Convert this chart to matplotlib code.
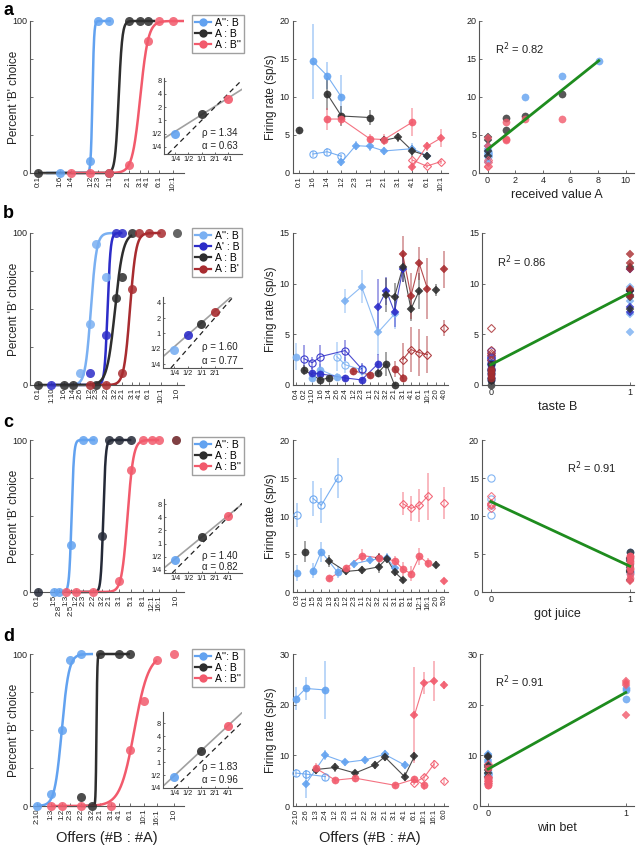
import numpy as np
import matplotlib
matplotlib.use("Agg")
import matplotlib.pyplot as plt
from matplotlib.lines import Line2D

plt.rcParams['font.family'] = ['Liberation Sans', 'DejaVu Sans']

W, H = 638, 852

# ---------------- colours ----------------
COL = {'lb': '#62a2f0', 'k': '#2e2e2e', 'r': '#f25a6c',
       'blb': '#7ab0f2', 'bdb': '#2c2cc8', 'bdr': '#a82c30', 'gk': '#4a4a4a',
       'mr': '#6a1e22', 'nk': '#252a38'}

# ======================= ROW a =======================
A_CH_LABELS = ['0:1', '1:6', '1:4', '1:2', '2:3', '1:1', '2:1', '3:1', '4:1', '6:1', '10:1']
A_CH_SPECIAL = {'0:1': -2.59}
A_CH_XLIM = (-2.89, 2.71)
# colour, offers, percent B, fit midpoint, fit width, curve start, curve end
A_CH_SERIES = [
    ('lb', ['1:6', '1:2', '2:3', '1:1'], [0, 8, 100, 100], -0.62, 0.03, -2.3, 0.05),
    ('k', ['0:1', '1:1', '2:1', '3:1', '4:1'], [0, 0, 100, 100, 100], 0.335, 0.065, -2.59, 1.67),
    ('r', ['1:4', '1:2', '1:1', '2:1', '4:1', '6:1', '10:1'], [0, 0, 0, 5, 87, 100, 100], 1.12, 0.145, -1.39, 2.71),
]
A_LEGEND = [('lb', "A'': B"), ('k', "A : B"), ('r', "A : B''")]
A_IN_X = [0.25, 1, 4]
A_IN_Y = [0.5, 1.37, 3.0]
A_IN_COL = ['lb', 'k', 'r']
A_RHO, A_ALPHA = 1.34, 0.63

A_MID_LABELS = A_CH_LABELS
# colour, marker, filled, chose A, category index, rate, error
A_MID_TRACES = [
    ('lb', 'o', True, 1, [1, 2, 3], [14.7, 12.8, 10.0], [4.9, 1.8, 2.9]),
    ('lb', 'D', True, 0, [3, 4, 5, 6, 8, 9], [1.4, 3.6, 3.5, 2.9, 3.2, 2.3], [0.5, 0.6, 0.6, 0.5, 0.7, 0.5]),
    ('lb', 'o', False, 0, [1, 2, 3], [2.5, 2.8, 2.2], [0.4, 0.5, 0.3]),
    ('k', 'o', True, 1, [0], [5.6], [0.5]),
    ('k', 'o', True, 1, [2, 3, 5], [10.4, 7.5, 7.3], [2.1, 1.3, 1.0]),
    ('k', 'D', True, 0, [6, 7, 8, 9], [4.3, 4.7, 2.9, 2.3], [0.5, 0.6, 0.8, 0.5]),
    ('r', 'o', True, 1, [2, 3, 5, 6, 8], [7.1, 7.1, 4.5, 4.4, 6.7], [1.5, 0.8, 0.6, 0.7, 1.8]),
    ('r', 'D', True, 0, [8, 9, 10], [0.8, 3.5, 4.6], [0.6, 0.6, 1.2]),
    ('r', 'D', False, 0, [8, 9, 10], [1.7, 0.9, 1.5], [0.3, 0.3, 0.3]),
]
A_UNIT_VALUE = 1.35
A_FIT = (3.1, 1.45, 0.0, 8.05)   # intercept, slope, x from, x to
A_R2 = '0.82'

# ======================= ROW b =======================
B_CH_LABELS = ['0:1', '1:10', '1:6', '1:4', '2:6', '1:2', '2:3', '2:2', '3:2', '2:1', '3:1', '4:1', '6:1', '10:1', '1:0']
B_CH_SPECIAL = {'0:1': -2.88, '1:0': 2.98}
B_CH_XLIM = (-3.21, 3.29)
B_CH_SERIES = [
    ('blb', ['2:6', '1:2', '2:3', '2:2'], [8, 40, 93, 71], -0.64, 0.12, -1.27, 0.42),
    ('bdb', ['1:10', '1:2', '2:2', '3:2', '2:1'], [0, 8, 33, 100, 100], 0.063, 0.063, -2.3, 0.69),
    ('k', ['0:1', '1:6', '1:4', '2:3', '3:2', '2:1', '3:1'], [0, 0, 0, 0, 57, 71, 100], 0.38, 0.17, -2.88, 1.1),
    ('bdr', ['1:2', '2:2', '2:1', '3:1', '4:1', '6:1', '10:1'], [0, 0, 8, 63, 100, 100, 100], 1.01, 0.127, -0.69, 2.3),
    ('gk', ['1:0'], [100], None, None, None, None),
]
B_LEGEND = [('blb', "A'': B"), ('bdb', "A' : B"), ('k', "A : B"), ('bdr', "A : B'")]
B_IN_X = [0.25, 0.5, 1, 2]
B_IN_Y = [0.48, 0.95, 1.55, 2.6]
B_IN_COL = ['blb', 'bdb', 'k', 'bdr']
B_RHO, B_ALPHA = 1.60, 0.77

B_MID_LABELS = ['0:4', '0:2', '1:10', '1:6', '1:4', '2:6', '2:4', '1:2', '2:3', '1:1', '2:2',
                '3:2', '2:1', '3:1', '4:1', '6:1', '10:1', '2:0', '4:0']
# colour, marker, filled, taste B, category index, rate, error
B_MID_TRACES = [
    ('blb', 'o', True, 0, [0], [2.8], [1.3]),
    ('blb', 'o', True, 0, [2, 3, 5], [0.7, 1.5, 0.8], [0.4, 0.6, 0.4]),
    ('blb', 'o', False, 0, [5, 6, 8], [2.8, 2.0, 1.5], [1.4, 0.8, 0.6]),
    ('blb', 'D', True, 1, [6, 8, 10, 12], [8.3, 9.7, 5.2, 7.0], [1.2, 1.6, 2.2, 1.5]),
    ('bdb', 'o', False, 0, [1, 2, 3, 6, 8], [2.6, 2.2, 2.8, 3.4, 1.6], [1.3, 0.6, 1.1, 1.0, 0.6]),
    ('bdb', 'o', True, 0, [2, 3, 6, 8, 10], [1.2, 1.1, 0.7, 0.5, 2.1], [0.5, 0.5, 0.3, 0.3, 1.0]),
    ('bdb', 'D', True, 1, [10, 11, 12, 13], [7.7, 9.3, 7.2, 11.4], [2.8, 1.4, 1.5, 1.2]),
    ('k', 'o', True, 0, [1, 3, 4], [1.5, 0.5, 0.7], [0.5, 0.2, 0.2]),
    ('k', 'o', True, 0, [10, 11, 12], [1.2, 2.1, 0.0], [0.4, 1.2, 0.2]),
    ('k', 'D', True, 1, [11, 12, 13, 14, 15], [8.9, 8.7, 11.6, 7.5, 9.3], [1.7, 1.4, 1.4, 1.2, 1.8]),
    ('k', 'D', True, 1, [17], [9.4], [0.6]),
    ('bdr', 'o', True, 0, [7, 9], [1.4, 1.0], [0.4, 0.3]),
    ('bdr', 'o', True, 0, [12, 13], [1.6, 0.7], [0.8, 0.4]),
    ('bdr', 'D', True, 1, [13, 14, 15, 16], [12.9, 8.8, 12.0, 9.5], [1.8, 2.3, 1.6, 3.0]),
    ('bdr', 'D', True, 1, [18], [11.4], [1.8]),
    ('bdr', 'D', False, 0, [13, 14, 15, 16], [2.5, 3.5, 3.2, 3.0], [1.6, 2.2, 2.3, 1.8]),
    ('bdr', 'D', False, 0, [18], [5.6], [0.8]),
]
B_FIT = (2.0, 7.1, 0.0, 1.0)
B_R2 = '0.86'

# ======================= ROW c =======================
C_CH_LABELS = ['0:1', '1:5', '2:8', '1:3', '2:5', '1:2', '2:3', '2:2', '3:2', '2:1', '3:1', '5:1', '8:1', '12:1', '16:1', '1:0']
C_CH_SPECIAL = {'0:1': -2.29, '1:0': 3.47}
C_CH_XLIM = (-2.61, 3.8)
C_CH_SERIES = [
    ('lb', ['1:5', '2:8', '2:5', '2:3', '2:2'], [0, 0, 31, 100, 100], -0.88, 0.05, -1.61, 0.1),
    ('nk', ['0:1', '3:2', '2:1', '3:1', '5:1'], [0, 37, 100, 100, 100], 0.44, 0.05, -1.0, 1.61),
    ('r', ['1:3', '1:2', '2:2', '3:1', '5:1', '8:1', '12:1', '16:1'], [0, 0, 0, 7, 80, 100, 100, 100], 1.45, 0.1225, -1.1, 2.77),
    ('mr', ['1:0'], [100], None, None, None, None),
]
C_LOW_LABELS = ['2:8', '2:5']
C_LEGEND = [('lb', "A'': B"), ('k', "A : B"), ('r', "A : B''")]
C_IN_X = [0.25, 1, 4]
C_IN_Y = [0.42, 1.45, 4.2]
C_IN_COL = ['lb', 'k', 'r']
C_RHO, C_ALPHA = 1.40, 0.82

C_MID_LABELS = ['0:3', '0:1', '1:5', '2:8', '1:3', '2:5', '1:2', '2:3', '1:1', '2:2', '3:2',
                '2:1', '3:1', '5:1', '8:1', '12:1', '16:1', '2:0', '5:0']
C_MID_TRACES = [
    ('lb', 'o', False, 0, [0], [10.1], [1.6]),
    ('lb', 'o', False, 0, [2, 3, 5], [12.3, 11.4, 15.0], [2.3, 2.3, 2.6]),
    ('lb', 'o', True, 1, [0], [2.5], [1.0]),
    ('lb', 'o', True, 1, [2, 3, 5], [2.8, 5.3, 2.6], [1.0, 1.3, 0.8]),
    ('lb', 'D', True, 1, [7, 9, 11, 12], [3.7, 4.2, 4.5, 3.1], [0.5, 0.5, 0.6, 0.5]),
    ('k', 'o', True, 1, [1], [5.3], [1.4]),
    ('k', 'D', True, 1, [4, 6, 8, 10, 11, 12, 13], [4.1, 2.7, 2.9, 3.3, 4.4, 2.6, 1.6], [0.8, 0.4, 0.5, 0.8, 0.6, 0.5, 0.4]),
    ('k', 'D', True, 1, [10], [4.5], [0.6]),
    ('k', 'D', True, 1, [17], [3.6], [0.5]),
    ('r', 'o', True, 1, [4, 6, 8, 10, 12, 13, 14, 15, 16], [1.8, 3.1, 4.8, 4.5, 4.1, 3.0, 2.4, 4.7, 3.8],
     [0.3, 0.5, 0.9, 0.6, 0.6, 0.9, 1.0, 1.1, 0.7]),
    ('r', 'D', True, 1, [18], [1.4], [0.4]),
    ('r', 'D', False, 0, [13, 14, 15, 16], [11.6, 11.0, 11.4, 12.6], [1.5, 1.6, 2.2, 3.1]),
    ('r', 'D', False, 0, [18], [11.7], [2.1]),
]
C_FIT = (11.9, -8.5, 0.0, 1.0)
C_R2 = '0.91'

# ======================= ROW d =======================
D_CH_LABELS = ['2:10', '1:3', '1:2', '2:3', '2:2', '3:2', '2:1', '3:1', '4:1', '6:1', '10:1', '16:1', '1:0']
D_CH_SPECIAL = {'1:0': 3.4}
D_CH_XLIM = (-1.86, 3.76)
D_CH_SERIES = [
    ('lb', ['2:10', '1:3', '1:2', '2:3', '2:2'], [0, 8, 50, 96, 100], -0.70, 0.13, -1.61, 0.44),
    ('k', ['2:2', '3:2', '2:1', '4:1', '6:1'], [6, 0, 100, 100, 100], 0.566, 0.015, 0.0, 1.79),
    ('r', ['1:3', '1:2', '2:2', '3:1', '6:1', '10:1', '16:1', '1:0'], [0, 0, 0, 0, 37, 69, 96, 100], 1.95, 0.26, -1.1, 2.77),
]
D_LEGEND = [('lb', "A'': B"), ('k', "A : B"), ('r', "A : B''")]
D_IN_X = [0.25, 1, 4]
D_IN_Y = [0.46, 1.83, 6.9]
D_IN_COL = ['lb', 'k', 'r']
D_RHO, D_ALPHA = 1.83, 0.96

D_MID_LABELS = ['2:10', '2:6', '1:3', '2:4', '1:2', '2:3', '1:1', '2:2', '3:2', '2:1', '3:1',
                '4:1', '6:1', '10:1', '16:1', '6:0']
D_MID_TRACES = [
    ('lb', 'o', True, 1, [0, 1, 3], [21.2, 23.2, 22.9], [2.2, 2.3, 5.8]),
    ('lb', 'o', False, 0, [0, 1, 3], [6.5, 6.3, 5.8], [0.8, 0.9, 0.8]),
    ('lb', 'D', True, 0, [1, 3, 5, 7, 9, 11], [4.3, 10.0, 8.6, 9.1, 10.2, 8.1], [2.8, 1.0, 0.7, 0.8, 0.9, 0.8]),
    ('k', 'D', True, 0, [2, 4, 6, 8, 9, 11, 12], [7.2, 7.6, 6.5, 8.1, 9.7, 5.8, 9.8], [0.8, 0.9, 0.7, 0.8, 0.8, 0.9, 0.9]),
    ('r', 'o', True, 0, [2, 4, 6, 10, 12, 13], [7.5, 5.1, 5.5, 4.1, 5.3, 4.1], [1.0, 0.5, 0.7, 0.5, 0.6, 0.9]),
    ('r', 'D', True, 1, [12, 13, 14], [17.9, 24.3, 24.7], [9.5, 2.2, 4.0]),
    ('r', 'D', True, 1, [15], [23.8], [0.8]),
    ('r', 'D', False, 0, [12, 13, 14], [4.6, 5.7, 8.3], [0.5, 0.6, 0.8]),
    ('r', 'D', False, 0, [15], [5.0], [0.6]),
]
D_FIT = (7.3, 15.1, 0.0, 1.0)
D_R2 = '0.91'

# ======================= layout (pixels) =======================
ROWS = {'a': (21, 173), 'b': (233, 385), 'c': (440, 592), 'd': (654, 806)}
LETTER_Y = {'a': 2, 'b': 205, 'c': 414, 'd': 628}

fig = plt.figure(figsize=(W / 100, H / 100), dpi=100)


def add_ax(l, t, r, b):
    return fig.add_axes([l / W, 1 - b / H, (r - l) / W, (b - t) / H])


def style(ax, ls=6.5):
    for s in ['top', 'right']:
        ax.spines[s].set_visible(False)
    for s in ['left', 'bottom']:
        ax.spines[s].set_color('#555555')
        ax.spines[s].set_linewidth(0.8)
    ax.tick_params(direction='in', length=2.5, width=0.6, colors='#555555',
                   labelsize=ls, labelcolor='#222222', pad=2)


def offer_pos(lab, special):
    if lab in special:
        return special[lab]
    b, a = lab.split(':')
    return np.log(float(b) / float(a))


def choice_panel(ax, labels, special, xlim, series, low=()):
    for col, offs, pct, mid, wid, x0, x1 in series:
        c = COL[col]
        if mid is not None:
            xx = np.linspace(x0, x1, 400)
            ax.plot(xx, 100.0 / (1 + np.exp(-(xx - mid) / wid)), color=c, lw=1.8,
                    zorder=2, clip_on=False, solid_capstyle='butt')
    for col, offs, pct, mid, wid, x0, x1 in series:
        c = COL[col]
        ax.plot([offer_pos(o, special) for o in offs], pct, 'o', color=c, ms=6.5,
                mec='none', alpha=0.85, zorder=3, clip_on=False)
    style(ax)
    ax.set_xlim(*xlim)
    ax.set_ylim(0, 100)
    ax.set_yticks([0, 25, 50, 75, 100])
    ax.set_yticklabels(['0', '', '', '', '100'])
    ax.set_xticks([offer_pos(l, special) for l in labels])
    ax.set_xticklabels(labels, rotation=90, fontsize=5.8)
    for t, l in zip(ax.xaxis.get_major_ticks(), labels):
        if l in low:
            t.set_pad(9)
    ax.set_ylabel("Percent 'B' choice", fontsize=8.5, color='#222222')
    ax.yaxis.set_label_coords(-0.065, 0.5)


def inset(box, xs, ys, cols, rho, alpha, ylim2, xticks, yticks, ylabs, txt_y):
    ax = add_ax(*box)
    ax.set_xscale('log', base=2)
    ax.set_yscale('log', base=2)
    xl = (2 ** -2.85, 2 ** 3.05)
    yl = (2 ** ylim2[0], 2 ** ylim2[1])
    ax.set_xlim(*xl)
    ax.set_ylim(*yl)
    xx = np.logspace(np.log10(xl[0]), np.log10(xl[1]), 50)
    ax.plot(xx, rho * xx ** alpha, color='#a0a0a0', lw=1.2, zorder=1)
    lo = max(xl[0], yl[0])
    hi = min(xl[1], yl[1])
    ax.plot([lo, hi], [lo, hi], color='#222222', lw=0.9, ls=(0, (4, 3)), zorder=2)
    for x, y, c in zip(xs, ys, cols):
        ax.plot([x], [y], 'o', color=COL[c], ms=6.5, mec='none', alpha=0.9, zorder=3, clip_on=False)
    style(ax, ls=5.3)
    ax.tick_params(which='minor', length=0)
    ax.tick_params(length=1.5, pad=1.5)
    ax.set_xticks(xticks)
    ax.set_xticklabels(['1/4', '1/2', '1/1', '2/1', '4/1'][:len(xticks)])
    ax.set_yticks(yticks)
    ax.set_yticklabels(ylabs)
    ax.patch.set_alpha(0)
    fig.text(202 / W, 1 - txt_y[0] / H, '\u03c1 = %.2f' % rho, fontsize=7, va='center', ha='left', color='#222222')
    fig.text(202 / W, 1 - txt_y[1] / H, '\u03b1 = %.2f' % alpha, fontsize=7, va='center', ha='left', color='#222222')


def mid_panel(ax, labels, traces, ylim, yticks, xlim):
    for col, mk, filled, flag, idx, y, e in traces:
        c = COL[col]
        ax.errorbar(idx, y, yerr=e, fmt='none', ecolor=c, elinewidth=1.1, alpha=0.55,
                    capsize=0, zorder=1, clip_on=False)
        ax.plot(idx, y, '-', color=c, lw=0.8, alpha=0.85, zorder=2, clip_on=False)
        ms = 5.2 if mk == 'o' else 4.3
        ax.plot(idx, y, mk, ms=ms, mfc=c if filled else 'none', mec=c,
                mew=0.8 if not filled else 0.3, alpha=0.9, zorder=3, clip_on=False)
    style(ax)
    ax.set_xlim(*xlim)
    ax.set_ylim(*ylim)
    ax.set_yticks(yticks)
    ax.set_xticks(range(len(labels)))
    ax.set_xticklabels(labels, rotation=90, fontsize=5.6)
    ax.set_ylabel('Firing rate (sp/s)', fontsize=8.5, color='#222222')
    ax.yaxis.set_label_coords(-0.10, 0.5)


def right_panel(ax, traces, xvals, fit, r2, r2pos, ylim, yticks, xlim, xticks, xlabel):
    for (col, mk, filled, flag, idx, y, e), xv in zip(traces, xvals):
        c = COL[col]
        ms = 5.2 if mk == 'o' else 4.3
        ax.plot(xv, y, mk, ls='none', ms=ms, mfc=c if filled else 'none', mec=c,
                mew=0.8 if not filled else 0.3, alpha=0.8, zorder=2, clip_on=False)
    b0, b1, x0, x1 = fit
    ax.plot([x0, x1], [b0 + b1 * x0, b0 + b1 * x1], color='#1e8c1e', lw=2.0, zorder=3)
    ax.text(r2pos[0], r2pos[1], 'R$^2$ = ' + r2, fontsize=8, va='center', ha='left', color='#222222')
    style(ax)
    ax.set_xlim(*xlim)
    ax.set_ylim(*ylim)
    ax.set_yticks(yticks)
    ax.set_xticks(xticks)
    ax.set_xlabel(xlabel, fontsize=9, color='#222222', labelpad=3)


def legend(handles_spec, x, y):
    hs = [Line2D([0], [0], color=COL[c], marker='o', ms=6, lw=1.6, mec='none') for c, _ in handles_spec]
    fig.legend(hs, [l for _, l in handles_spec], loc='upper left', bbox_to_anchor=(x / W, 1 - y / H),
               fontsize=7.5, frameon=True, fancybox=False, edgecolor='#888888', handlelength=1.6,
               borderpad=0.25, labelspacing=0.12, handletextpad=0.35, borderaxespad=0)


# ------------- left column -------------
L, R = 30, 184
t, b = ROWS['a']
ax = add_ax(L, t, R, b)
choice_panel(ax, A_CH_LABELS, A_CH_SPECIAL, A_CH_XLIM, A_CH_SERIES)
legend(A_LEGEND, 192, 15)
inset((164, 78, 242, 154), A_IN_X, A_IN_Y, A_IN_COL, A_RHO, A_ALPHA, (-2.55, 3.2),
      [0.25, 0.5, 1, 2, 4], [0.25, 0.5, 1, 2, 4, 8], ['1/4', '1/2', '1', '2', '4', '8'], (133, 146))

t, b = ROWS['b']
ax = add_ax(L, t, R, b)
choice_panel(ax, B_CH_LABELS, B_CH_SPECIAL, B_CH_XLIM, B_CH_SERIES)
legend(B_LEGEND, 192, 228)
inset((163, 297, 242, 368), B_IN_X, B_IN_Y, B_IN_COL, B_RHO, B_ALPHA, (-2.26, 2.39),
      [0.25, 0.5, 1, 2], [0.25, 0.5, 1, 2, 4], ['1/4', '1/2', '1', '2', '4'], (347, 361))

t, b = ROWS['c']
ax = add_ax(L, t, R, b)
choice_panel(ax, C_CH_LABELS, C_CH_SPECIAL, C_CH_XLIM, C_CH_SERIES, low=C_LOW_LABELS)
legend(C_LEGEND, 192, 437)
inset((164, 499, 242, 573), C_IN_X, C_IN_Y, C_IN_COL, C_RHO, C_ALPHA, (-2.23, 3.38),
      [0.25, 0.5, 1, 2, 4], [0.25, 0.5, 1, 2, 4, 8], ['1/4', '1/2', '1', '2', '4', '8'], (556, 567))

t, b = ROWS['d']
ax = add_ax(L, t, R, b)
choice_panel(ax, D_CH_LABELS, D_CH_SPECIAL, D_CH_XLIM, D_CH_SERIES)
ax.set_xlabel('Offers (#B : #A)', fontsize=10.5, color='#222222', labelpad=5)
legend(D_LEGEND, 192, 649)
inset((163, 712, 242, 788), D_IN_X, D_IN_Y, D_IN_COL, D_RHO, D_ALPHA, (-2.0, 3.85),
      [0.25, 0.5, 1, 2, 4], [0.25, 0.5, 1, 2, 4, 8], ['1/4', '1/2', '1', '2', '4', '8'], (767, 780))

# ------------- middle column -------------
ML, MR = 292.5, 448
t, b = ROWS['a']
ax = add_ax(ML, t, MR, b)
mid_panel(ax, A_MID_LABELS, A_MID_TRACES, (0, 20), [0, 5, 10, 15, 20], (-0.44, 10.5))
t, b = ROWS['b']
ax = add_ax(ML, t, MR, b)
mid_panel(ax, B_MID_LABELS, B_MID_TRACES, (0, 15), [0, 5, 10, 15], (-0.4, 18.5))
t, b = ROWS['c']
ax = add_ax(ML, t, MR, b)
mid_panel(ax, C_MID_LABELS, C_MID_TRACES, (0, 20), [0, 5, 10, 15, 20], (-0.52, 18.5))
t, b = ROWS['d']
ax = add_ax(ML, t, MR, b)
mid_panel(ax, D_MID_LABELS, D_MID_TRACES, (0, 30), [0, 10, 20, 30], (-0.33, 15.4))
ax.set_xlabel('Offers (#B : #A)', fontsize=10.5, color='#222222', labelpad=5)

# ------------- right column -------------
RR = 634
# a: received value of A = number of A drops x unit value (0 when B chosen)
a_xvals = []
for col, mk, filled, flag, idx, y, e in A_MID_TRACES:
    if flag:
        a_xvals.append([A_UNIT_VALUE * float(A_MID_LABELS[i].split(':')[1]) for i in idx])
    else:
        a_xvals.append([0.0] * len(idx))
t, b = ROWS['a']
ax = add_ax(479.3, t, RR, b)
right_panel(ax, A_MID_TRACES, a_xvals, A_FIT, A_R2, (0.53, 16.3), (0, 20), [0, 5, 10, 15, 20],
            (-0.6, 10.6), [0, 2, 4, 6, 8, 10], 'received value A')

for key, traces, fit, r2, r2pos, ylim, yt, xl, lab, left in [
        ('b', B_MID_TRACES, B_FIT, B_R2, (0.046, 12.2), (0, 15), [0, 5, 10, 15], (-0.065, 1.03), 'taste B', 481.7),
        ('c', C_MID_TRACES, C_FIT, C_R2, (0.55, 16.3), (0, 20), [0, 5, 10, 15, 20], (-0.065, 1.03), 'got juice', 481.7),
        ('d', D_MID_TRACES, D_FIT, D_R2, (0.05, 24.6), (0, 30), [0, 10, 20, 30], (-0.06, 1.06), 'win bet', 480)]:
    t, b = ROWS[key]
    ax = add_ax(left, t, RR, b)
    xv = [[float(tr[3])] * len(tr[4]) for tr in traces]
    right_panel(ax, traces, xv, fit, r2, r2pos, ylim, yt, xl, [0, 1], lab)

# ------------- panel letters -------------
for k, y in LETTER_Y.items():
    fig.text(3 / W, 1 - y / H, k, fontsize=13, fontweight='bold', va='top', ha='left')

fig.savefig('out.png', dpi=100)
